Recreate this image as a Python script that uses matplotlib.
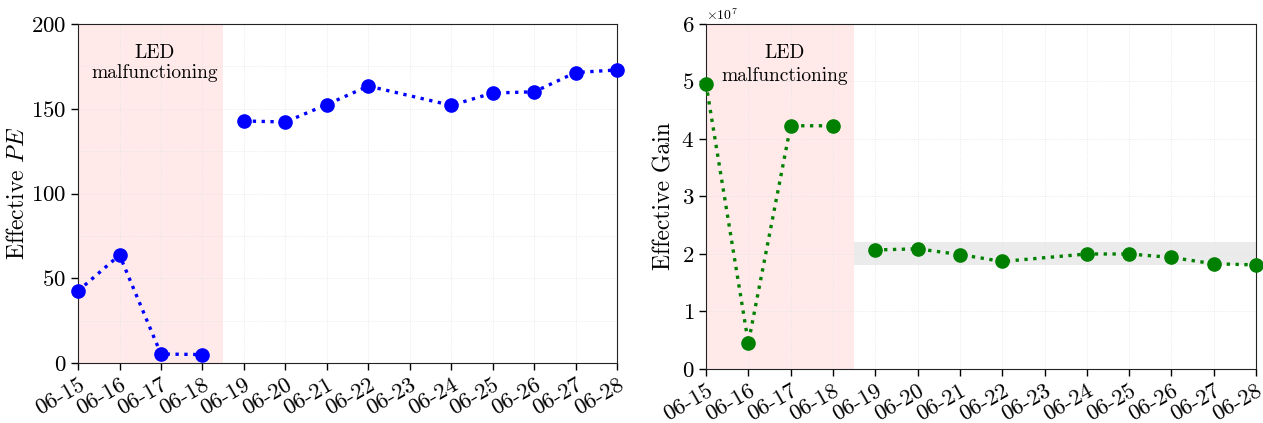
import numpy as np
import pandas as pd
import matplotlib
matplotlib.use('Agg')
import matplotlib.pyplot as plt
import matplotlib.dates as mdates
from matplotlib.ticker import MultipleLocator

plt.rcParams['font.family'] = 'cmr10'
plt.rcParams['mathtext.fontset'] = 'cm'
plt.rcParams['axes.formatter.use_mathtext'] = True

# measurement days (06-23 has no data)
days = ['06-15', '06-16', '06-17', '06-18', '06-19', '06-20', '06-21',
        '06-22', '06-24', '06-25', '06-26', '06-27', '06-28']
eff_pe = [42.5, 63.7, 5.3, 5.0, 142.8, 142.2, 152.5, 163.4, 152.0, 159.3, 160.0, 171.4, 172.9]
eff_gain = [4.96e7, 0.45e7, 4.23e7, 4.23e7, 2.07e7, 2.09e7, 1.99e7, 1.87e7,
            2.00e7, 2.00e7, 1.94e7, 1.83e7, 1.81e7]
gain_band = (1.8e7, 2.2e7)
n_bad = 4  # first days with the LED problem

dates = pd.to_datetime(['2023-' + d for d in days])
start = pd.Timestamp('2023-06-15')
end = pd.Timestamp('2023-06-28')
led_end = pd.Timestamp('2023-06-18 12:00')
txt_x = pd.Timestamp('2023-06-16 20:30')

fig = plt.figure(figsize=(12.63, 4.23), dpi=100)
ax1 = fig.add_axes([0.0618, 0.1418, 0.4268, 0.8014])
ax2 = fig.add_axes([0.559, 0.1277, 0.4355, 0.8156])


def style(ax):
    ax.set_xlim(start, end)
    ax.xaxis.set_major_locator(mdates.DayLocator())
    ax.xaxis.set_major_formatter(mdates.DateFormatter('%m-%d'))
    ax.grid(True, which='both', color='#e4e4e4', lw=0.6, ls=':')
    ax.tick_params(axis='both', which='major', labelsize=16.5, length=5, width=1)
    ax.tick_params(axis='y', which='minor', length=0)
    for lab in ax.get_xticklabels():
        lab.set_rotation(30)
        lab.set_ha('right')
        lab.set_rotation_mode('anchor')
    for s in ax.spines.values():
        s.set_color('#222222')
    ax.axvspan(start, led_end, color='#ffe9e9', zorder=0, lw=0)


def draw(ax, y, color):
    # two separate segments: before and after the LED fix
    for sl in (slice(0, n_bad), slice(n_bad, None)):
        ax.plot(dates[sl], y[sl], ls=':', lw=2.4, marker='o', ms=9.5,
                color=color, clip_on=False, zorder=3)


# left: effective PE
draw(ax1, eff_pe, 'blue')
ax1.set_ylim(0, 200)
ax1.yaxis.set_major_locator(MultipleLocator(50))
ax1.yaxis.set_minor_locator(MultipleLocator(25))
ax1.set_ylabel(r'Effective $PE$', fontsize=17, labelpad=1)
style(ax1)
ax1.text(txt_x, 183, 'LED', ha='center', va='center', fontsize=14)
ax1.text(txt_x, 171, 'malfunctioning', ha='center', va='center', fontsize=14)

# right: effective gain
draw(ax2, eff_gain, 'green')
ax2.fill_between([led_end, end], gain_band[0], gain_band[1], color='#ebebeb', lw=0, zorder=1)
ax2.set_ylim(0, 6e7)
ax2.yaxis.set_major_locator(MultipleLocator(1e7))
ax2.set_ylabel('Effective Gain', fontsize=17)
style(ax2)
ax2.grid(False, which='minor')
ax2.yaxis.get_offset_text().set_fontsize(10)
ax2.text(txt_x, 5.5e7, 'LED', ha='center', va='center', fontsize=14)
ax2.text(txt_x, 5.1e7, 'malfunctioning', ha='center', va='center', fontsize=14)

fig.savefig('out.png', dpi=100)
